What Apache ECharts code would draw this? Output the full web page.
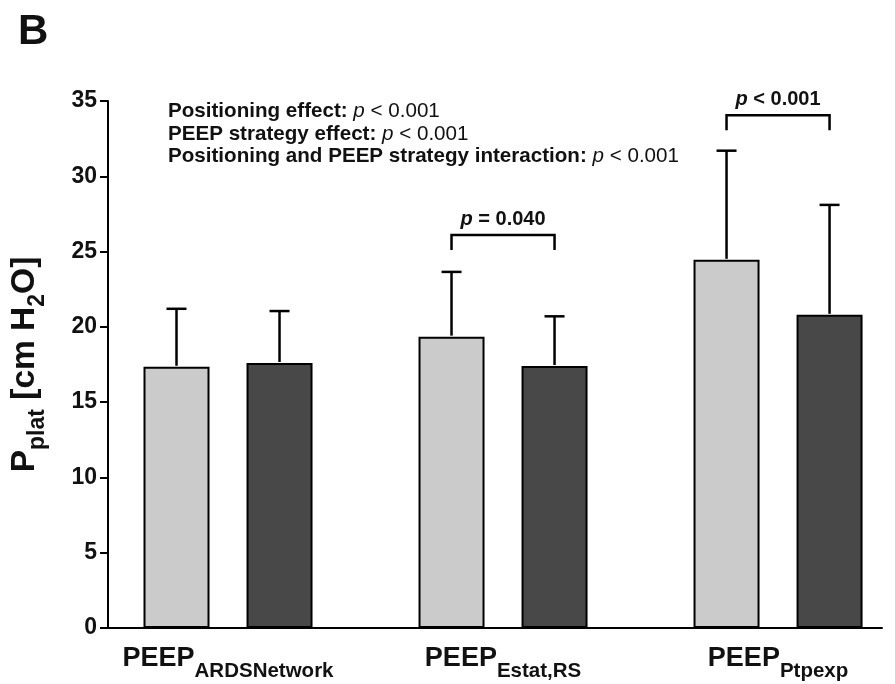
<!DOCTYPE html>
<html>
<head>
<meta charset="utf-8">
<script src="https://cdn.jsdelivr.net/npm/echarts@6/dist/echarts.min.js"></script>
<style>
  html, body { margin: 0; padding: 0; background: #fff; }
  #chart { width: 895px; height: 684px; }
</style>
</head>
<body>
<div id="chart"></div>
<script>
// -- Data --
const categories = ['ARDSNetwork', 'Estat,RS', 'Ptpexp'];
const lightMean = [17.35, 19.35, 24.45];
const lightSd = [3.85, 4.3, 7.25];
const darkMean = [17.6, 17.4, 20.8];
const darkSd = [3.45, 3.3, 7.3];
const yTicks = [0, 5, 10, 15, 20, 25, 30, 35];

// significance brackets: group (1-based), bracket height, label
const sigGroups = [2, 3];
const sigLevels = [26.1, 34.05];
const sigLabels = [['p', ' = 0.040'], ['p', ' < 0.001']];

const FONT = "'Liberation Sans', Arial, sans-serif";
const INK = '#111';
const OFF = 0.1873;   // half distance between paired bars, in group units
const LIGHT = '#cbcbcb';
const DARK = '#484848';

const chart = echarts.init(document.getElementById('chart'), null, { renderer: 'canvas' });

const barSeries = (mean, color, side) => ({
  type: 'bar',
  data: mean.map((v, i) => [i + 1 + side * OFF, v]),
  barWidth: 66,
  barGap: '-100%',
  itemStyle: { color, borderColor: '#000', borderWidth: 2 },
  silent: true,
  z: 2
});

const errData = [];
lightMean.forEach((v, i) => errData.push([i + 1 - OFF, v, lightSd[i]]));
darkMean.forEach((v, i) => errData.push([i + 1 + OFF, v, darkSd[i]]));

chart.setOption({
  animation: false,
  grid: { left: 108, right: 13, top: 101, bottom: 56 },
  xAxis: {
    type: 'value',
    min: 0.5636,
    max: 3.378,
    axisLine: { show: true, lineStyle: { color: '#000', width: 2 } },
    axisTick: { show: false },
    splitLine: { show: false },
    axisLabel: {
      customValues: [1, 2, 3],
      margin: 17,
      formatter: v => `{b|PEEP}{s|${categories[Math.round(v) - 1]}}`,
      rich: {
        b: { fontFamily: FONT, fontWeight: 'bold', fontSize: 27, lineHeight: 26, verticalAlign: 'top', color: INK },
        s: { fontFamily: FONT, fontWeight: 'bold', fontSize: 20.5, lineHeight: 52, color: INK }
      }
    }
  },
  yAxis: {
    type: 'value',
    min: 0,
    max: 35,
    interval: 5,
    axisLine: { show: true, lineStyle: { color: '#000', width: 2 } },
    axisTick: { show: true, length: 8, lineStyle: { color: '#000', width: 2 } },
    splitLine: { show: false },
    axisLabel: {
      margin: 11,
      fontFamily: FONT, fontWeight: 'bold', fontSize: 23, color: INK,
      formatter: v => (yTicks.includes(v) ? String(v) : '')
    },
    name: '{P|P}{s|plat}{P| [cm H}{s|2}{P|O]}',
    nameLocation: 'middle',
    nameGap: 40,
    nameRotate: 90,
    nameTextStyle: {
      rich: {
        P: { fontFamily: FONT, fontWeight: 'bold', fontSize: 33.5, lineHeight: 36, verticalAlign: 'top', color: INK },
        s: { fontFamily: FONT, fontWeight: 'bold', fontSize: 23, lineHeight: 60, color: INK }
      }
    }
  },
  series: [
    barSeries(lightMean, LIGHT, -1),
    barSeries(darkMean, DARK, 1),
    {
      // one-sided SD error bars
      type: 'custom',
      silent: true,
      z: 3,
      data: errData,
      renderItem: (params, api) => {
        const p0 = api.coord([api.value(0), api.value(1)]);
        const p1 = api.coord([api.value(0), api.value(1) + api.value(2)]);
        const st = { stroke: '#000', lineWidth: 2.5 };
        return {
          type: 'group',
          children: [
            { type: 'line', shape: { x1: p0[0], y1: p0[1] - 1, x2: p1[0], y2: p1[1] }, style: st },
            { type: 'line', shape: { x1: p1[0] - 10, y1: p1[1], x2: p1[0] + 10, y2: p1[1] }, style: st }
          ]
        };
      }
    },
    {
      // significance brackets
      type: 'custom',
      silent: true,
      z: 3,
      data: sigGroups.map((g, i) => [g, sigLevels[i], i]),
      renderItem: (params, api) => {
        const g = api.value(0);
        const lvl = api.value(1);
        const lab = sigLabels[api.value(2)];
        const a = api.coord([g - OFF, lvl]);
        const b = api.coord([g + OFF, lvl]);
        return {
          type: 'group',
          children: [
            {
              type: 'polyline',
              shape: { points: [[a[0], a[1] + 15], [a[0], a[1]], [b[0], a[1]], [b[0], b[1] + 15]] },
              style: { stroke: '#000', lineWidth: 2.5, fill: null }
            },
            {
              type: 'text',
              style: {
                x: (a[0] + b[0]) / 2, y: a[1] - 6,
                text: `{i|${lab[0]}}{b|${lab[1]}}`,
                align: 'center', verticalAlign: 'bottom',
                rich: {
                  i: { fontFamily: FONT, fontWeight: 'bold', fontStyle: 'italic', fontSize: 20, fill: INK },
                  b: { fontFamily: FONT, fontWeight: 'bold', fontSize: 20, fill: INK }
                }
              }
            }
          ]
        };
      }
    }
  ],
  graphic: [
    {
      type: 'text',
      left: 18, top: 11,
      style: { text: 'B', font: `bold 42px ${FONT}`, fill: INK }
    },
    {
      type: 'text',
      left: 168, top: 101,
      style: {
        text: '{b|Positioning effect: }{i|p}{r| < 0.001}\n' +
              '{b|PEEP strategy effect: }{i|p}{r| < 0.001}\n' +
              '{b|Positioning and PEEP strategy interaction: }{i|p}{r| < 0.001}',
        rich: {
          b: { fontFamily: FONT, fontWeight: 'bold', fontSize: 20.6, lineHeight: 22.5, fill: INK },
          i: { fontFamily: FONT, fontStyle: 'italic', fontSize: 20.6, lineHeight: 22.5, fill: INK },
          r: { fontFamily: FONT, fontSize: 20.6, lineHeight: 22.5, fill: INK }
        }
      }
    }
  ]
});
</script>
</body>
</html>
